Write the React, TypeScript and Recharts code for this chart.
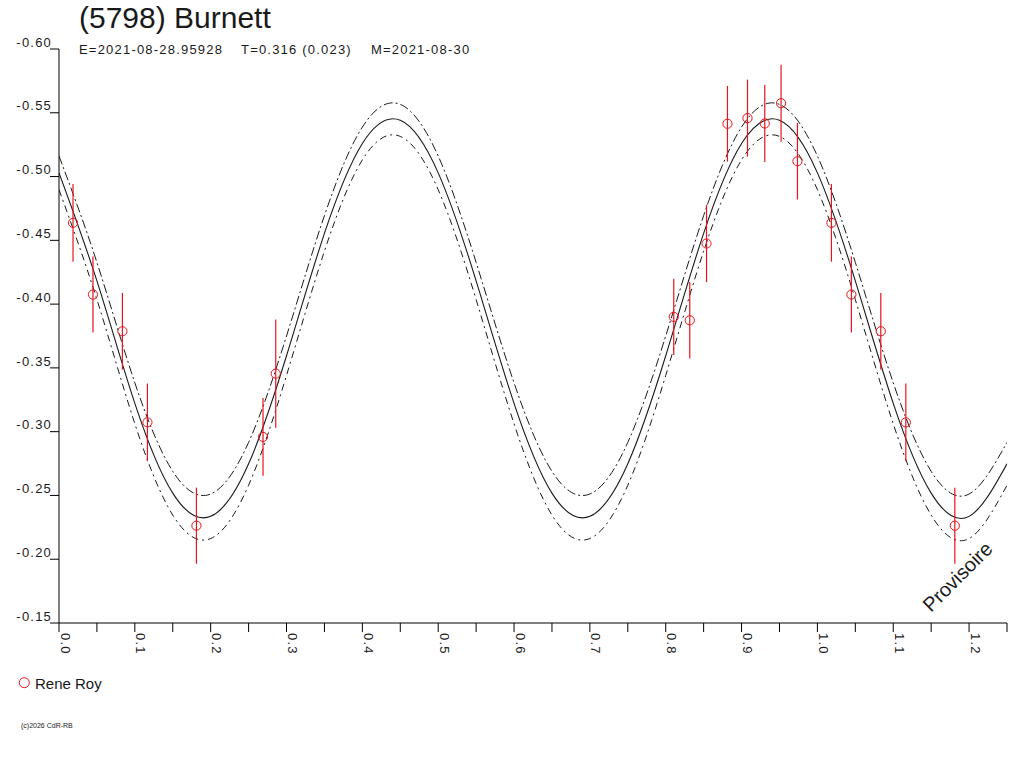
import * as React from 'react';
import { ComposedChart, Line, Scatter, ErrorBar, XAxis, YAxis } from 'recharts';

const fitPhase = [0, 0.05, 0.1, 0.15, 0.2, 0.25, 0.3, 0.35, 0.4, 0.45, 0.5, 0.55, 0.6, 0.65, 0.7, 0.75, 0.8, 0.85, 0.9, 0.95, 1.0, 1.05, 1.1, 1.15, 1.2, 1.25];
const fitMag = [-0.5029, -0.4182, -0.3222, -0.2518, -0.2336, -0.2748, -0.3595, -0.4555, -0.5259, -0.5441, -0.5029, -0.4182, -0.3222, -0.2518, -0.2336, -0.2748, -0.3595, -0.4555, -0.5259, -0.5441, -0.5029, -0.4182, -0.3222, -0.2518, -0.2336, -0.2748];
const fitUpper = [-0.5161, -0.4327, -0.3383, -0.2689, -0.2511, -0.2916, -0.375, -0.4694, -0.5388, -0.5566, -0.5161, -0.4327, -0.3383, -0.2689, -0.2511, -0.2916, -0.375, -0.4694, -0.5388, -0.5566, -0.5161, -0.4327, -0.3383, -0.2689, -0.2511, -0.2916];
const fitLower = [-0.4897, -0.4036, -0.3062, -0.2346, -0.2162, -0.258, -0.3441, -0.4415, -0.5131, -0.5315, -0.4897, -0.4036, -0.3062, -0.2346, -0.2162, -0.258, -0.3441, -0.4415, -0.5131, -0.5315, -0.4897, -0.4036, -0.3062, -0.2346, -0.2162, -0.258];

// observations (Rene Roy)
const obsPhase = [0.0185, 0.0448, 0.0836, 0.1166, 0.1812, 0.269, 0.2858, 0.8106, 0.8317, 0.8538, 0.8814, 0.9078, 0.9306, 0.9521, 0.9737, 1.0185, 1.0448, 1.0836, 1.1166, 1.1812];
const obsMag = [-0.4637, -0.4075, -0.3787, -0.3073, -0.2263, -0.2959, -0.3455, -0.39, -0.3873, -0.4475, -0.5414, -0.5458, -0.5416, -0.5575, -0.512, -0.4637, -0.4075, -0.3787, -0.3073, -0.2263];
const obsErr = [0.0305, 0.0298, 0.03, 0.0304, 0.0298, 0.0305, 0.0424, 0.0298, 0.03, 0.0303, 0.0297, 0.0302, 0.0302, 0.0302, 0.03, 0.0305, 0.0298, 0.03, 0.0304, 0.0298];

const xTicks = [0, 0.05, 0.1, 0.15, 0.2, 0.25, 0.3, 0.35, 0.4, 0.45, 0.5, 0.55, 0.6, 0.65, 0.7, 0.75, 0.8, 0.85, 0.9, 0.95, 1.0, 1.05, 1.1, 1.15, 1.2, 1.25];
const yTicks = [-0.6, -0.55, -0.5, -0.45, -0.4, -0.35, -0.3, -0.25, -0.2, -0.15];

const fitData = fitPhase.map((p, i) => ({ phase: p, mag: fitMag[i], upper: fitUpper[i], lower: fitLower[i] }));
const obsData = obsPhase.map((p, i) => ({ phase: p, mag: obsMag[i], err: obsErr[i] }));

const FONT = '"Liberation Sans", Arial, sans-serif';
const RED = '#e8141c';
const INK = '#1a1a1a';

const XTick = (props: any) => {
  const { x, y, payload } = props;
  const v = payload.value;
  if (Math.abs(v * 10 - Math.round(v * 10)) > 1e-6) return null;
  return (
    <text x={x + 1.5} y={y - 1} transform={`rotate(90 ${x + 1.5} ${y - 1})`} textAnchor="start"
      fontFamily={FONT} fontSize={13} letterSpacing={1.2} fill={INK}>
      {v.toFixed(1)}
    </text>
  );
};

const YTick = (props: any) => {
  const { y, payload } = props;
  return (
    <text x={52} y={y - 2.3} textAnchor="end" fontFamily={FONT} fontSize={13} letterSpacing={1.2} fill={INK}>
      {payload.value.toFixed(2)}
    </text>
  );
};

const Ring = (props: any) => (
  <circle cx={props.cx} cy={props.cy} r={4.6} fill="none" stroke={RED} strokeWidth={1} />
);

export default function App() {
  return (
    <div style={{ position: 'absolute', left: 0, top: 0, width: 1024, height: 768, background: '#fff' }}>
      <ComposedChart width={1024} height={768} data={fitData}
        margin={{ top: 49, right: 17, bottom: 115, left: 0 }}>
        <XAxis dataKey="phase" type="number" domain={[0, 1.25]} ticks={xTicks} interval={0}
          allowDataOverflow tickSize={9} height={30} stroke="#000" tick={<XTick />} />
        <YAxis type="number" domain={[-0.6, -0.15]} ticks={yTicks} reversed allowDataOverflow
          width={59} tickSize={9} stroke="#000" tick={<YTick />} interval={0} />
        <Line dataKey="upper" type="natural" stroke={INK} strokeWidth={1} strokeDasharray="9 3 2 3"
          dot={false} activeDot={false} isAnimationActive={false} />
        <Line dataKey="mag" type="natural" stroke={INK} strokeWidth={1.1}
          dot={false} activeDot={false} isAnimationActive={false} />
        <Line dataKey="lower" type="natural" stroke={INK} strokeWidth={1} strokeDasharray="7 4 2 4"
          dot={false} activeDot={false} isAnimationActive={false} />
        <Scatter data={obsData} dataKey="mag" shape={<Ring />} isAnimationActive={false}>
          <ErrorBar dataKey="err" direction="y" width={0} stroke={RED} strokeWidth={1.2} isAnimationActive={false} />
        </Scatter>
      </ComposedChart>
      <svg width={1024} height={768} style={{ position: 'absolute', left: 0, top: 0, pointerEvents: 'none' }}>
        <text x={79} y={28} fontFamily={FONT} fontSize={30} fill={INK}>(5798) Burnett</text>
        <text x={79} y={54} fontFamily={FONT} fontSize={13} letterSpacing={1.2} fill={INK}>E=2021-08-28.95928</text>
        <text x={241} y={54} fontFamily={FONT} fontSize={13} letterSpacing={1.2} fill={INK}>T=0.316 (0.023)</text>
        <text x={371} y={54} fontFamily={FONT} fontSize={13} letterSpacing={1.2} fill={INK}>M=2021-08-30</text>
        <text x={931} y={613} transform="rotate(-45 931 613)" fontFamily={FONT} fontSize={20} fill={INK}>Provisoire</text>
        <circle cx={24.3} cy={682.7} r={5} fill="none" stroke={RED} strokeWidth={1} />
        <text x={35} y={688.5} fontFamily={FONT} fontSize={15} fill={INK}>Rene Roy</text>
        <text x={21} y={728} fontFamily={FONT} fontSize={7} fill={INK}>(c)2026 CdR-RB</text>
      </svg>
    </div>
  );
}
